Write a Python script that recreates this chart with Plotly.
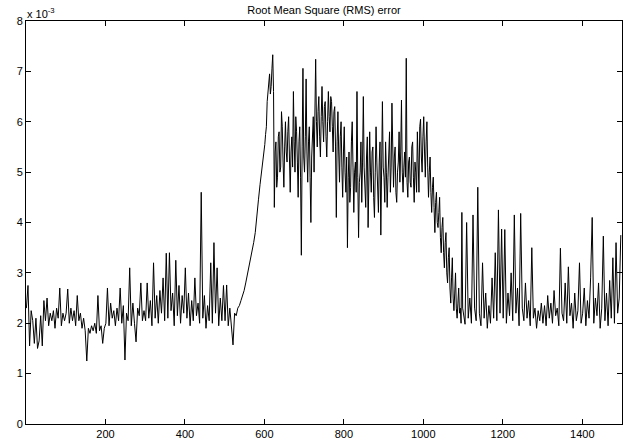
import numpy as np
import plotly.graph_objects as go

# RMS error values (units of 1e-3), one list per block of 100 samples.
# Blocks with 25 values are sampled every 4 samples, blocks with 50 values every 2 samples.
seg0 = [2.30, 2.75, 1.55, 2.25, 2.05, 1.60, 2.10, 1.50, 1.65, 2.15, 1.55, 2.45, 2.05, 2.50, 1.95, 2.20, 2.05, 2.25, 1.90, 2.30, 2.10, 2.70, 1.95, 2.20, 2.05]
seg1 = [2.20, 2.68, 2.00, 2.30, 2.05, 2.25, 1.95, 2.55, 2.05, 2.20, 1.90, 2.10, 1.85, 1.25, 1.90, 1.80, 1.95, 1.85, 2.00, 1.80, 2.55, 1.85, 1.95, 1.60, 1.90]
seg2 = [2.00, 2.70, 1.95, 2.40, 2.10, 2.25, 1.95, 2.30, 2.05, 2.70, 2.00, 2.35, 1.27, 2.20, 2.05, 3.10, 1.95, 2.40, 2.00, 1.63, 2.30, 2.15, 2.80, 2.05, 2.25]
seg3 = [2.05, 2.80, 2.10, 2.45, 1.95, 3.20, 2.10, 2.55, 2.00, 2.65, 2.20, 2.90, 2.05, 3.39, 2.10, 3.40, 2.25, 2.60, 1.95, 3.25, 2.15, 2.75, 2.00, 2.55, 2.20]
seg4 = [3.10, 2.10, 2.60, 1.95, 2.45, 2.05, 2.90, 2.15, 2.40, 2.00, 4.60, 2.10, 2.55, 1.90, 2.35, 2.05, 3.20, 2.00, 3.60, 2.20, 3.10, 1.95, 2.50, 2.05, 2.75]
seg5 = [2.05, 2.76, 1.95, 2.30, 2.00, 1.57, 2.20, 2.15, 2.30, 2.35, 2.45, 2.55, 2.65, 2.80, 2.95, 3.10, 3.25, 3.40, 3.60, 3.80, 4.20, 4.45, 4.75, 5.00, 5.30]
seg6 = [5.55, 5.75, 5.90, 6.40, 6.60, 6.85, 6.95, 6.55, 6.70, 7.05, 7.33, 6.60, 4.30, 5.40, 5.60, 4.70, 4.90, 5.70, 5.80, 5.00,
        5.10, 6.20, 5.90, 5.20, 4.70, 5.50, 6.00, 5.40, 5.20, 5.80, 6.10, 5.30, 4.60, 5.40, 5.70, 5.10, 6.60, 5.60, 5.00, 6.10,
        5.80, 5.20, 4.50, 5.60, 5.90, 4.90, 3.35, 5.50, 7.06, 5.30]
seg7 = [5.00, 5.70, 6.85, 5.40, 4.80, 5.60, 5.90, 4.90, 4.00, 5.30, 5.60, 6.10, 5.00, 5.80, 7.24, 6.00, 5.50, 6.20, 6.50, 5.70,
        5.30, 6.10, 6.70, 6.00, 5.60, 6.30, 6.40, 5.70, 5.30, 6.00, 6.60, 6.10, 5.80, 6.50, 6.40, 5.90, 5.40, 6.20, 6.30, 5.50,
        4.10, 5.60, 6.20, 5.40, 4.80, 5.70, 6.00, 5.10, 4.50, 5.40]
seg8 = [5.90, 5.00, 4.60, 5.30, 3.50, 4.90, 5.40, 4.40, 4.70, 5.60, 6.00, 5.10, 4.20, 5.00, 5.20, 4.60, 6.60, 4.90, 3.70, 4.80,
        5.00, 5.60, 4.40, 5.20, 6.50, 5.10, 4.80, 4.30, 5.30, 5.70, 3.90, 4.90, 5.80, 5.00, 4.60, 5.40, 5.50, 4.50, 4.10, 5.00,
        5.90, 5.20, 4.70, 4.20, 5.20, 5.60, 3.75, 4.80, 6.40, 5.10]
seg9 = [4.90, 4.40, 5.60, 5.00, 4.30, 4.90, 5.30, 5.80, 4.60, 5.10, 6.37, 5.20, 4.70, 5.30, 5.50, 4.60, 4.40, 5.00, 5.20, 5.80,
        4.80, 5.40, 6.43, 5.00, 4.60, 5.10, 5.40, 4.90, 7.26, 4.80, 4.50, 5.20, 5.30, 4.80, 4.70, 5.50, 5.60, 4.90, 4.40, 5.20,
        5.00, 4.60, 5.80, 5.20, 4.60, 5.90, 6.05, 5.30, 5.00, 5.70]
seg10 = [6.10, 5.40, 4.90, 5.60, 6.00, 5.10, 4.50, 5.00, 5.30, 4.60, 4.20, 4.70, 4.90, 4.30, 3.80, 4.40, 4.60, 4.00, 3.90, 4.20,
         4.50, 3.70, 3.40, 3.90, 4.10, 3.40, 3.10, 3.60, 3.80, 3.00, 2.80, 3.30, 3.50, 2.70, 2.40, 2.90, 3.30, 2.50, 2.25, 2.60,
         3.00, 2.30, 2.10, 2.40, 2.70, 2.20, 2.30, 2.00, 4.20, 2.30]
seg11 = [2.20, 1.98, 4.00, 2.10, 2.50, 2.00, 4.15, 2.30, 2.05, 4.70, 2.20, 1.95, 3.20, 2.10, 2.60, 1.90, 2.35, 2.00, 2.90, 2.10, 3.40, 2.05, 4.25, 2.20, 3.87]
seg12 = [2.10, 3.86, 2.00, 2.60, 2.15, 3.00, 2.05, 4.15, 2.20, 2.70, 1.95, 4.18, 2.30, 2.05, 2.80, 2.10, 2.45, 1.95, 3.50, 2.10, 2.30, 1.90, 2.25, 2.05, 2.40]
seg13 = [2.00, 2.35, 1.95, 2.55, 2.10, 2.40, 2.00, 2.65, 2.15, 2.30, 1.95, 3.49, 2.20, 2.05, 2.80, 2.00, 3.12, 2.15, 2.40, 1.90, 2.60, 2.05, 2.25, 3.20, 2.00]
seg14 = [2.20, 2.70, 1.95, 2.45, 2.10, 2.90, 4.10, 2.00, 2.50, 2.15, 2.80, 1.90, 2.30, 3.73, 2.05, 2.60, 1.95, 2.85, 2.10, 3.30, 2.00, 3.60, 2.20, 2.50, 3.75]

x_ticks = [200, 400, 600, 800, 1000, 1200, 1400]
y_ticks = [0, 1, 2, 3, 4, 5, 6, 7, 8]
title_text = "Root Mean Square (RMS) error"

blocks = [seg0, seg1, seg2, seg3, seg4, seg5, seg6, seg7, seg8, seg9,
          seg10, seg11, seg12, seg13, seg14]
samples, rms = [], []
for b, seg in enumerate(blocks):
    step = 100 // len(seg)
    samples += [b * 100 + 1 + i * step for i in range(len(seg))]
    rms += seg

fig = go.Figure()
fig.add_trace(go.Scatter(x=samples, y=rms, mode="lines",
                         line=dict(color="black", width=1), showlegend=False,
                         hoverinfo="skip"))

font = dict(family="Liberation Sans, Arial, sans-serif", size=11, color="black")
axis_common = dict(showline=True, linecolor="black", linewidth=1, mirror="ticks",
                   ticks="inside", ticklen=5, tickcolor="black", tickwidth=1,
                   showgrid=False, zeroline=False, automargin=False, tickfont=font)

fig.update_xaxes(range=[0, 1500], tickvals=x_ticks, **axis_common)
fig.update_yaxes(range=[0, 8], tickvals=y_ticks, **axis_common)

fig.update_layout(
    width=628, height=444,
    margin=dict(l=26, r=6, t=21, b=20, autoexpand=False),
    paper_bgcolor="white", plot_bgcolor="white",
    hovermode=False,
    title=dict(text=title_text, x=324 / 628, xanchor="center", xref="container",
               y=1 - 10 / 444, yref="container", yanchor="middle", automargin=False,
               font=font),
    annotations=[dict(text="x 10<sup>-3</sup>", xref="paper", yref="paper",
                      x=0, y=1, xanchor="left", yanchor="bottom", showarrow=False,
                      xshift=-1, yshift=-1, font=font)],
)

fig.write_html("out.html", config={"displayModeBar": False, "staticPlot": True},
               post_script="document.body.style.margin='0';document.body.style.overflow='hidden';")
